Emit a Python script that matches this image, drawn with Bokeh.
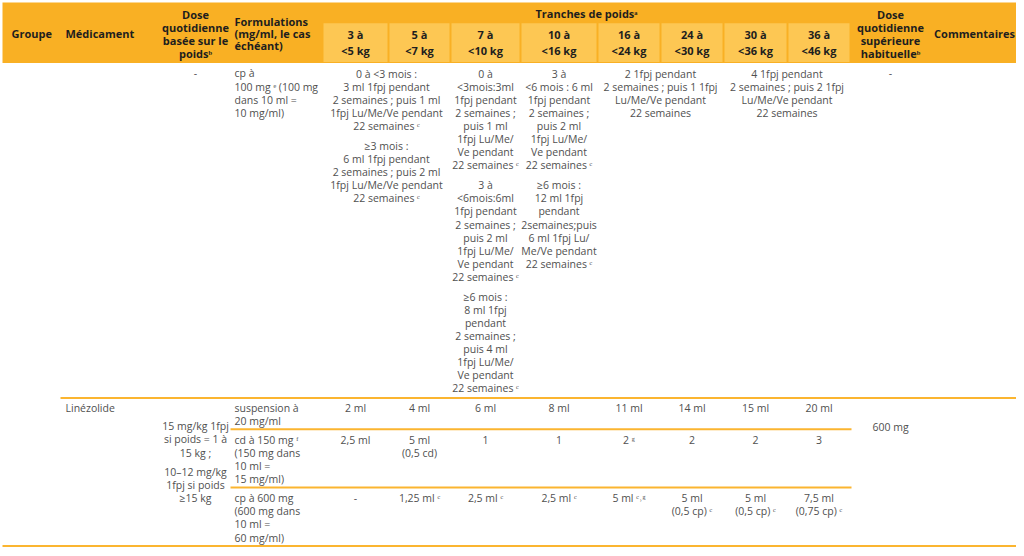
from bokeh.plotting import figure
from bokeh.models import ColumnDataSource, Range1d
from bokeh.core.properties import value
from bokeh.embed import file_html
from bokeh.resources import INLINE

# ---------------- data (table contents) ----------------
header_groupe = "Groupe"
header_medicament = "Médicament"
header_dose = ["Dose", "quotidienne", "basée sur le", "poidsᵇ"]
header_form = ["Formulations", "(mg/ml, le cas", "échéant)"]
header_bands_title = "Tranches de poidsᵃ"
weight_bands = [["3 à", "<5 kg"], ["5 à", "<7 kg"], ["7 à", "<10 kg"], ["10 à", "<16 kg"],
                ["16 à", "<24 kg"], ["24 à", "<30 kg"], ["30 à", "<36 kg"], ["36 à", "<46 kg"]]
header_max = ["Dose", "quotidienne", "supérieure", "habituelleᵇ"]
header_comments = "Commentaires"

row1_dose = "-"
row1_formulation = ["cp à", "100 mg ᵉ (100 mg", "dans 10 ml =", "10 mg/ml)"]
row1_max = "-"
row1_spans = [(0, 2), (2, 1), (3, 1), (4, 2), (6, 2)]
row1_blocks = [
    [["0 à <3 mois :", "3 ml 1fpj pendant", "2 semaines ; puis 1 ml", "1fpj Lu/Me/Ve pendant", "22 semaines ᶜ"],
     ["≥3 mois :", "6 ml 1fpj pendant", "2 semaines ; puis 2 ml", "1fpj Lu/Me/Ve pendant", "22 semaines ᶜ"]],
    [["0 à", "<3mois:3ml", "1fpj pendant", "2 semaines ;", "puis 1 ml", "1fpj Lu/Me/", "Ve pendant", "22 semaines ᶜ"],
     ["3 à", "<6mois:6ml", "1fpj pendant", "2 semaines ;", "puis 2 ml", "1fpj Lu/Me/", "Ve pendant", "22 semaines ᶜ"],
     ["≥6 mois :", "8 ml 1fpj", "pendant", "2 semaines ;", "puis 4 ml", "1fpj Lu/Me/", "Ve pendant", "22 semaines ᶜ"]],
    [["3 à", "<6 mois : 6 ml", "1fpj pendant", "2 semaines ;", "puis 2 ml", "1fpj Lu/Me/", "Ve pendant", "22 semaines ᶜ"],
     ["≥6 mois :", "12 ml 1fpj", "pendant", "2semaines;puis", "6 ml 1fpj Lu/", "Me/Ve pendant", "22 semaines ᶜ"]],
    [["2 1fpj pendant", "2 semaines ; puis 1 1fpj", "Lu/Me/Ve pendant", "22 semaines"]],
    [["4 1fpj pendant", "2 semaines ; puis 2 1fpj", "Lu/Me/Ve pendant", "22 semaines"]],
]

lin_medicament = "Linézolide"
lin_dose = [["15 mg/kg 1fpj", "si poids = 1 à", "15 kg ;"], ["10–12 mg/kg", "1fpj si poids", "≥15 kg"]]
lin_formulations = [["suspension à", "20 mg/ml"],
                    ["cd à 150 mg ᶠ", "(150 mg dans", "10 ml =", "15 mg/ml)"],
                    ["cp à 600 mg", "(600 mg dans", "10 ml =", "60 mg/ml)"]]
lin_susp = [["2 ml"], ["4 ml"], ["6 ml"], ["8 ml"], ["11 ml"], ["14 ml"], ["15 ml"], ["20 ml"]]
lin_cd150 = [["2,5 ml"], ["5 ml", "(0,5 cd)"], ["1"], ["1"], ["2 ᵍ"], ["2"], ["2"], ["3"]]
lin_cp600 = [["-"], ["1,25 ml ᶜ"], ["2,5 ml ᶜ"], ["2,5 ml ᶜ"], ["5 ml ᶜ˒ᵍ"],
             ["5 ml", "(0,5 cp) ᶜ"], ["5 ml", "(0,5 cp) ᶜ"], ["7,5 ml", "(0,75 cp) ᶜ"]]
lin_max = "600 mg"

# ---------------- layout ----------------
W_EDGES = [322, 388, 450, 520, 597, 660, 723, 787, 850]
X_GROUPE, X_MED, X_DOSE, X_FORM, X_MAX, X_COMM = 11, 65, 195, 234, 890, 974
LH = 13.3
PGAP = 6.7
DARK = "#F9B024"
LIGHT = "#FDC753"
RULE = "#FBB530"
TXT = "#505050"
HTXT = "#1e1e1e"
FONT = "Open Sans"
BODY_SIZE = "10.5px"

p = figure(width=1016, height=548, x_range=Range1d(0, 1016), y_range=Range1d(556, 0),
           output_backend="svg", toolbar_location=None, min_border=0,
           x_axis_location=None, y_axis_location=None)
p.xgrid.visible = False
p.ygrid.visible = False
p.outline_line_color = None

# header backgrounds
p.quad(left=[2], right=[1022], top=[2], bottom=[63.5], fill_color=DARK, line_color=None)
p.quad(left=[e + 1 for e in W_EDGES[:-1]], right=[e - 1 for e in W_EDGES[1:]],
       top=[23] * 8, bottom=[62.5] * 8, fill_color=LIGHT, line_color=None)

# rules
p.segment(x0=[60, 230, 230, 2], y0=[403.3, 435, 494, 553.5],
          x1=[1020, 851, 851, 1020], y1=[403.3, 435, 494, 553.5],
          line_color=RULE, line_width=2)

texts = {}


def put(x, y, lines, align="center", bold=False, color=TXT, lh=LH, size=BODY_SIZE):
    key = (align, bold, color, size)
    d = texts.setdefault(key, {"x": [], "y": [], "t": []})
    for i, ln in enumerate(lines):
        d["x"].append(x)
        d["y"].append(y + i * lh)
        d["t"].append(ln)


def put_paras(x, y, paras, align="center"):
    for para in paras:
        put(x, y, para, align)
        y += len(para) * LH + PGAP


def centers(span):
    s, n = span
    return (W_EDGES[s] + W_EDGES[s + n]) / 2


HS = "11px"
# header text
put(X_GROUPE, 33, [header_groupe], "left", True, HTXT, size=HS)
put(X_MED, 33, [header_medicament], "left", True, HTXT, size=HS)
put(X_DOSE, 14.5, header_dose, "center", True, HTXT, 13, HS)
put(X_FORM, 21, header_form, "left", True, HTXT, 12.5, HS)
put((W_EDGES[0] + W_EDGES[-1]) / 2, 13, [header_bands_title], "center", True, HTXT, size=HS)
for i, wb in enumerate(weight_bands):
    put((W_EDGES[i] + W_EDGES[i + 1]) / 2, 35, wb, "center", True, HTXT, 15.5, HS)
put(X_MAX, 14.5, header_max, "center", True, HTXT, 13, HS)
put(X_COMM, 33, [header_comments], "center", True, HTXT, size=HS)

# row 1
put(X_DOSE, 74, [row1_dose])
put(X_FORM, 74, row1_formulation, "left")
put(X_MAX, 74, [row1_max])
for span, paras in zip(row1_spans, row1_blocks):
    put_paras(centers(span), 74.3, paras)

# Linézolide
put(X_MED, 413, [lin_medicament], "left")
put_paras(X_DOSE, 432, lin_dose)
put(X_MAX, 433, [lin_max])
sub_y = [413, 446, 505]
for fy, form in zip(sub_y, lin_formulations):
    put(X_FORM, fy, form, "left")
for fy, vals in zip(sub_y, [lin_susp, lin_cd150, lin_cp600]):
    for i, v in enumerate(vals):
        put((W_EDGES[i] + W_EDGES[i + 1]) / 2, fy, v)

for (align, bold, color, size), d in texts.items():
    src = ColumnDataSource(dict(x=d["x"], y=d["y"], text=d["t"]))
    p.text(x="x", y="y", text="text", source=src, text_align=align, text_baseline="middle",
           text_font=value(FONT), text_font_size=size,
           text_font_style="bold" if bold else "normal", text_color=color)

open("out.html", "w").write(file_html(p, INLINE))
